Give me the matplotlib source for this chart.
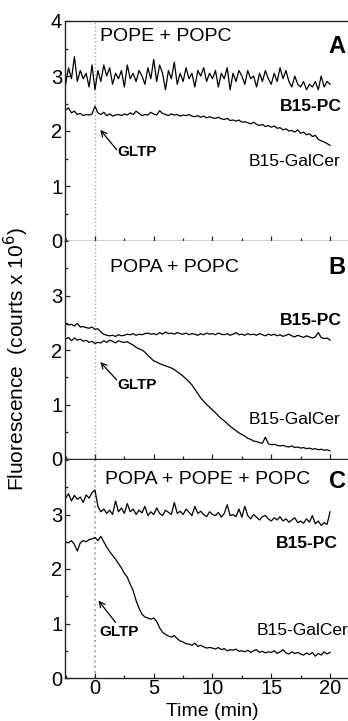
import numpy as np
import matplotlib
matplotlib.use("Agg")
import matplotlib.pyplot as plt
from matplotlib.ticker import MultipleLocator

plt.rcParams['font.family'] = ['Liberation Sans', 'DejaVu Sans']

# ---- data (fluorescence, counts x 10^6), sampled every 0.25 min from -2.5 to 20 min
a_pc = [2.85,3.15,2.95,3.35,2.9,3.1,2.95,3.05,2.8,3.2,
        2.75,3.1,2.9,3.2,3.0,3.15,2.85,3.05,2.95,3.1,
        2.8,3.2,2.95,3.05,2.9,3.1,3.0,2.85,3.15,2.95,
        3.3,2.9,3.2,3.05,2.75,3.1,2.95,3.25,2.85,3.05,
        2.9,3.15,2.95,3.05,2.8,3.1,3.0,3.15,2.9,3.05,
        2.95,3.1,2.8,3.05,2.95,3.15,2.75,3.05,2.9,3.1,
        3.0,2.85,3.1,2.95,3.0,2.8,3.05,2.9,3.1,2.95,
        2.85,3.05,2.9,3.15,2.95,3.1,2.9,2.8,3.0,2.85,
        2.8,2.9,2.75,2.85,2.8,2.9,2.75,3.0,2.8,2.9,
        2.85]
a_gal = [2.38,2.42,2.33,2.36,2.30,2.32,2.28,2.30,2.29,2.31,
         2.45,2.33,2.30,2.34,2.28,2.31,2.27,2.29,2.30,2.28,
         2.31,2.29,2.33,2.30,2.36,2.32,2.28,2.30,2.29,2.34,
         2.31,2.29,2.37,2.32,2.30,2.28,2.31,2.29,2.30,2.27,
         2.29,2.28,2.30,2.27,2.26,2.28,2.25,2.27,2.24,2.26,
         2.24,2.23,2.25,2.22,2.21,2.23,2.19,2.20,2.18,2.20,
         2.16,2.17,2.15,2.13,2.16,2.12,2.10,2.12,2.08,2.10,
         2.07,2.09,2.05,2.06,2.02,2.04,2.00,2.01,1.98,2.02,
         1.96,1.98,1.93,1.95,1.90,1.92,1.85,1.82,1.80,1.77,
         1.74]
b_pc = [2.48,2.46,2.47,2.44,2.49,2.42,2.43,2.41,2.40,2.42,
        2.38,2.39,2.33,2.29,2.27,2.26,2.27,2.25,2.28,2.26,
        2.27,2.29,2.28,2.30,2.27,2.29,2.28,2.30,2.31,2.29,
        2.30,2.28,2.32,2.29,2.33,2.30,2.31,2.29,2.32,2.30,
        2.29,2.31,2.28,2.30,2.29,2.27,2.30,2.28,2.31,2.29,
        2.30,2.28,2.31,2.29,2.28,2.30,2.27,2.29,2.32,2.28,
        2.29,2.27,2.30,2.28,2.29,2.27,2.30,2.28,2.26,2.29,
        2.27,2.29,2.26,2.28,2.25,2.27,2.29,2.26,2.24,2.27,
        2.25,2.23,2.26,2.24,2.22,2.24,2.32,2.23,2.21,2.22,
        2.18]
b_gal = [2.20,2.23,2.17,2.22,2.18,2.20,2.16,2.18,2.14,2.16,
         2.12,2.14,2.13,2.17,2.14,2.18,2.16,2.13,2.17,2.15,
         2.14,2.15,2.12,2.09,2.05,2.02,2.00,1.96,1.90,1.85,
         1.80,1.78,1.75,1.73,1.71,1.69,1.67,1.64,1.60,1.56,
         1.52,1.47,1.42,1.36,1.28,1.20,1.12,1.06,1.00,0.95,
         0.90,0.85,0.79,0.74,0.70,0.65,0.60,0.56,0.52,0.48,
         0.45,0.42,0.38,0.36,0.33,0.32,0.30,0.29,0.40,0.28,
         0.26,0.27,0.25,0.24,0.25,0.23,0.22,0.24,0.21,0.22,
         0.20,0.21,0.19,0.20,0.18,0.19,0.17,0.18,0.16,0.17,
         0.15]
c_pc = [3.30,3.38,3.25,3.35,3.28,3.32,3.22,3.36,3.30,3.40,
        3.45,3.15,3.05,3.10,3.02,3.08,3.00,3.25,3.05,3.12,
        3.02,3.20,3.05,3.10,3.00,3.08,3.03,3.15,2.98,3.05,
        3.00,3.12,3.02,2.98,3.08,3.04,3.00,3.22,3.02,3.06,
        3.00,3.10,3.04,2.98,3.15,3.02,3.06,3.00,2.96,3.05,
        3.00,2.98,3.04,2.95,3.02,3.18,2.98,3.00,2.96,3.10,
        2.95,3.15,2.98,2.92,3.00,2.95,2.90,2.96,2.98,2.92,
        2.88,2.94,2.90,2.96,2.88,2.92,2.86,2.90,2.94,2.85,
        2.88,2.84,2.92,2.86,2.98,2.83,2.88,2.80,2.85,2.82,
        3.05]
c_gal = [2.50,2.48,2.52,2.45,2.33,2.48,2.52,2.50,2.54,2.55,
         2.58,2.52,2.60,2.50,2.40,2.32,2.25,2.18,2.10,2.02,
         1.92,1.85,1.72,1.60,1.42,1.28,1.17,1.12,1.10,1.08,
         1.10,1.04,0.92,0.84,0.80,0.77,0.75,0.78,0.72,0.68,
         0.66,0.63,0.62,0.60,0.64,0.58,0.60,0.57,0.55,0.56,
         0.55,0.53,0.56,0.52,0.54,0.50,0.52,0.51,0.53,0.49,
         0.50,0.48,0.51,0.47,0.50,0.52,0.47,0.49,0.46,0.48,
         0.47,0.50,0.45,0.48,0.52,0.46,0.44,0.48,0.45,0.47,
         0.44,0.42,0.46,0.43,0.47,0.40,0.45,0.42,0.48,0.44,
         0.47]

panel_titles = ["POPE + POPC", "POPA + POPC", "POPA + POPE + POPC"]
panel_letters = ["A", "B", "C"]
series = [(a_pc, a_gal), (b_pc, b_gal), (c_pc, c_gal)]
xticks = [0, 5, 10, 15, 20]

fig = plt.figure(figsize=(3.48, 7.21), dpi=100)
W, H = 348.0, 721.0
left = 65 / W
boxes = [(21, 241), (241, 459), (460, 678)]  # top, bottom in px

# label positions (data coords) per panel
title_pos = [(0.45, 3.72), (1.25, 3.52), (0.85, 3.65)]
letter_y = [3.53, 3.52, 3.6]
pc_lab = [(21.0, 2.44), (21.0, 2.55), (20.7, 2.47)]
gal_lab = [(20.9, 1.44), (20.9, 0.72), (21.6, 0.87)]
gltp_txt = [(1.9, 1.62), (1.9, 1.36), (0.4, 0.84)]
gltp_tip = [(0.45, 2.02), (0.45, 1.78), (0.3, 1.42)]
gltp_tail = [(1.85, 1.66), (1.85, 1.45), (1.75, 1.02)]

for i, (top, bot) in enumerate(boxes):
    ax = fig.add_axes([left, (H - bot) / H, 1 - left, (bot - top) / H])
    pc, gal = series[i]
    t_pc = np.linspace(-2.5, 20, len(pc))
    t_gal = np.linspace(-2.5, 20, len(gal))
    ax.plot(t_pc, pc, color='black', lw=0.9)
    ax.plot(t_gal, gal, color='black', lw=0.9)
    ax.axvline(0, color='0.65', ls=':', lw=1.4 if i == 2 else 1.0, zorder=0)
    ax.set_xlim(-2.55, 21.53)
    ax.set_ylim(0, 4)
    ax.spines['right'].set_visible(False)
    for s in ['left', 'bottom', 'top']:
        ax.spines[s].set_linewidth(1.0)
        ax.spines[s].set_color('0.15')
    if i > 0:
        ax.spines['top'].set_visible(False)
    ax.xaxis.set_major_locator(MultipleLocator(5))
    ax.xaxis.set_minor_locator(MultipleLocator(2.5))
    ax.yaxis.set_major_locator(MultipleLocator(1))
    ax.yaxis.set_minor_locator(MultipleLocator(0.5))
    ax.tick_params(which='both', direction='in', top=False, right=False,
                   labelsize=14.5, pad=2, width=0.9, color='0.15')
    ax.tick_params(axis='x', pad=1)
    ax.tick_params(which='major', length=3.5)
    ax.tick_params(which='minor', length=2.5)
    yt = [0, 1, 2, 3, 4] if i == 0 else [0, 1, 2, 3]
    ax.set_yticks(yt)
    ax.set_yticklabels([str(v) for v in yt])
    if i < 2:
        ax.tick_params(labelbottom=False)
    else:
        ax.set_xticks(xticks)
        ax.set_xticklabels([str(v) for v in xticks])
    ax.text(title_pos[i][0], title_pos[i][1], panel_titles[i], fontsize=14,
            ha='left', va='center')
    ax.text(21.35, letter_y[i], panel_letters[i],
            fontsize=17, fontweight='bold', ha='right', va='center')
    ax.text(pc_lab[i][0], pc_lab[i][1], "B15-PC", fontsize=12.5, fontweight='bold',
            ha='right', va='center')
    ax.text(gal_lab[i][0], gal_lab[i][1], "B15-GalCer", fontsize=12.5,
            ha='right', va='center')
    ax.text(gltp_txt[i][0], gltp_txt[i][1], "GLTP", fontsize=11, fontweight='bold',
            ha='left', va='center')
    ax.annotate("", xy=gltp_tip[i], xytext=gltp_tail[i],
                arrowprops=dict(arrowstyle='->', color='black', lw=0.9,
                                shrinkA=0, shrinkB=0))

fig.text((65 + 147) / W, 0.002, "Time (min)", fontsize=14, ha='center', va='bottom')
fig.text(0.046, 0.502, "Fluorescence  (courts x 10$^6$)", rotation=90,
         fontsize=15, ha='center', va='center')

fig.savefig("out.png", dpi=100)
